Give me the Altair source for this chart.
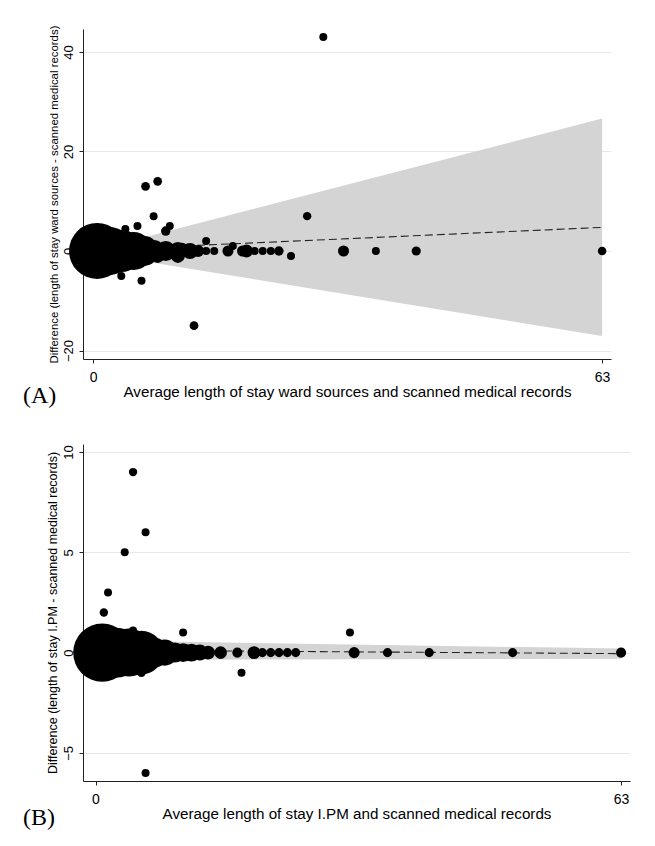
import altair as alt
import pandas as pd

# ---------------- Panel A data ----------------
a_x = [0.5, 2, 3.5, 5, 6.3, 7.5, 9, 10.5, 12, 13, 14, 15, 16.7, 18.5, 19, 20, 21, 22, 23, 31, 35, 40, 63,
       28.5, 6.5, 8, 7.5, 5.5, 9, 9.5, 4, 14, 17.3, 3.5, 6, 12.5, 26.5, 24.5, 8, 10.5, 11]
a_y = [0, 0, 0, 0, 0, 0, 0, 0, 0, 0, 0, 0, 0, 0, 0, 0, 0, 0, 0, 0, 0, 0, 0,
       43, 13, 14, 7, 5, 4, 5, 4.4, 2, 1, -5, -6, -15, 7, -1, -1, -1, 0.4]
a_n = [49, 36, 27.6, 22.6, 14, 7.6, 6.25, 5, 4, 2.25, 1, 1, 1.9, 1.9, 2.6, 1, 1, 1, 1.4, 1.9, 1, 1.3, 1.15,
       1, 1.2, 1.2, 1, 1, 1.4, 1, 1, 1, 1, 1, 1, 1.2, 1.1, 1, 3, 3, 2.5]
a_band_x = [1, 63]
a_band_lo = [-0.67, -17.1]
a_band_hi = [0.52, 26.6]
a_line_x = [1, 63]
a_line_y = [0.27, 4.74]

# ---------------- Panel B data ----------------
b_x = [0.8, 2.5, 4, 5.5, 7, 8.3, 9.5, 10.5, 11.5, 12.5, 13.5, 15, 17, 19, 20, 21, 22, 23, 24, 31, 35, 40, 50, 63,
       4.5, 6, 3.5, 1.5, 1, 10.5, 17.5, 6, 4.5, 5.5, 30.5]
b_y = [0, 0, 0, 0, 0, 0, 0, 0, 0, 0, 0, 0, 0, 0, 0, 0, 0, 0, 0, 0, 0, 0, 0, 0,
       9, 6, 5, 3, 2, 1, -1, -6, 1.1, -1, 1]
b_n = [52.6, 39, 36, 30, 14, 10.6, 6.25, 5.6, 5, 4, 3, 2.5, 1.6, 2.6, 1.3, 1.3, 1.3, 1.3, 1.3, 1.9, 1.3, 1.3, 1.3, 1.6,
       1.1, 1, 1, 1, 1.1, 1, 1, 1, 1, 1.2, 1]
b_band_x = [1, 63]
b_band_lo = [-0.36, -0.3]
b_band_hi = [0.6, 0.2]
b_line_x = [1, 63]
b_line_y = [0.12, -0.05]

FONT = "Liberation Sans"


def panel(px, py, pn, bx, blo, bhi, lx, ly, xdom, ydom, yticks, xtitle, ytitle, tag, w, h, ytsize):
    pts = pd.DataFrame({"x": px, "y": py, "n": pn})
    band = pd.DataFrame({"x": bx, "lo": blo, "hi": bhi})
    line = pd.DataFrame({"x": lx, "y": ly})
    xs = alt.Scale(domain=xdom, nice=False, zero=False)
    ys = alt.Scale(domain=ydom, nice=False, zero=False)
    xax = alt.Axis(values=[0, 63], title=xtitle, grid=False, tickSize=4,
                   labelPadding=7, titlePadding=0, labelFontSize=14, titleFontSize=15.2)
    yax = alt.Axis(values=yticks, title=ytitle, grid=True, tickSize=4, labelAngle=270,
                   labelAlign="center", labelBaseline="bottom",
                   labelPadding=4, titlePadding=3, labelFontSize=13, titleFontSize=ytsize)
    b = alt.Chart(band).mark_area(color="#d4d4d4", opacity=1).encode(
        x=alt.X("x:Q", scale=xs, axis=xax),
        y=alt.Y("lo:Q", scale=ys, axis=yax),
        y2="hi:Q",
    )
    l = alt.Chart(line).mark_line(color="#222222", strokeDash=[8, 4], strokeWidth=1.1).encode(
        x=alt.X("x:Q", scale=xs),
        y=alt.Y("y:Q", scale=ys),
    )
    p = alt.Chart(pts).mark_circle(color="black", opacity=1).encode(
        x=alt.X("x:Q", scale=xs),
        y=alt.Y("y:Q", scale=ys),
        size=alt.Size("n:Q", scale=alt.Scale(domain=[0, 50], range=[0, 3200]), legend=None),
    )
    t = alt.Chart(pd.DataFrame({"t": [tag]})).mark_text(
        font="Liberation Serif", fontSize=24, align="left", baseline="alphabetic", color="black"
    ).encode(x=alt.value(-60), y=alt.value(h + 44), text="t:N")
    return alt.layer(b, l, p, t).properties(width=w, height=h)


pa = panel(a_x, a_y, a_n, a_band_x, a_band_lo, a_band_hi, a_line_x, a_line_y,
           [-1.24, 64.1], [-21.7, 44.6], [-20, 0, 20, 40],
           "Average length of stay ward sources and scanned medical records",
           "Difference (length of stay ward sources - scanned medical records)",
           "(A)", 528, 330, 11.4)
pb = panel(b_x, b_y, b_n, b_band_x, b_band_lo, b_band_hi, b_line_x, b_line_y,
           [-1.5, 64.07], [-6.4, 10.4], [-5, 0, 5, 10],
           "Average length of stay I.PM and scanned medical records",
           "Difference (length of stay I.PM - scanned medical records)",
           "(B)", 547, 337, 12.5)

chart = alt.vconcat(pa, pb, spacing=36).properties(
    padding={"left": 15, "top": 17, "right": 5, "bottom": 5},
    background="white",
).configure_view(stroke=None).configure_axis(
    labelFont=FONT, titleFont=FONT, labelColor="black", titleColor="black",
    titleFontWeight="normal", domainColor="#222222", tickColor="#222222",
    gridColor="#e8e8e8", domainWidth=1,
)

chart.save("out.html", embed_options={"renderer": "svg", "actions": False})
